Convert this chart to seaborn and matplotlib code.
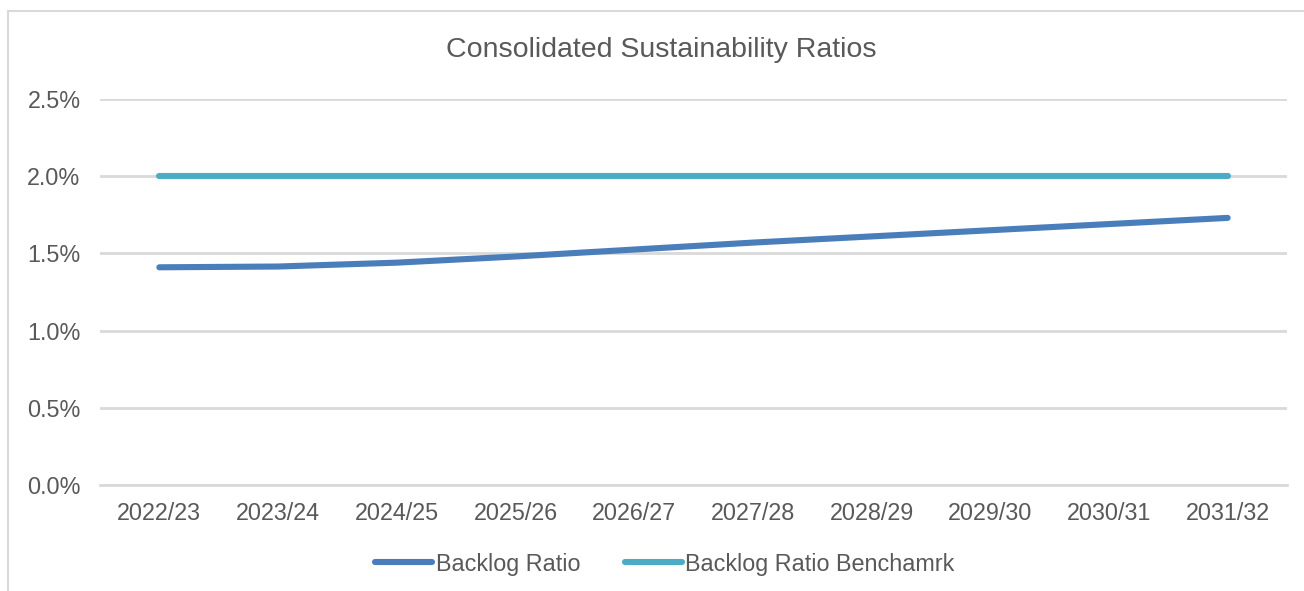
import matplotlib
matplotlib.use("Agg")
import matplotlib.pyplot as plt
import matplotlib.patches as mpatches
import seaborn as sns
import pandas as pd

# Financial years on the x axis
years = ["2022/23", "2023/24", "2024/25", "2025/26", "2026/27",
         "2027/28", "2028/29", "2029/30", "2030/31", "2031/32"]
# Ratios in percent
backlog_ratio = [1.41, 1.415, 1.44, 1.48, 1.525, 1.57, 1.61, 1.65, 1.69, 1.73]
backlog_benchmark = [2.0, 2.0, 2.0, 2.0, 2.0, 2.0, 2.0, 2.0, 2.0, 2.0]
series_names = ["Backlog Ratio", "Backlog Ratio Benchamrk"]
y_ticks = [0.0, 0.5, 1.0, 1.5, 2.0, 2.5]

df = pd.DataFrame({
    "year": years * 2,
    "ratio": backlog_ratio + backlog_benchmark,
    "series": [series_names[0]] * len(years) + [series_names[1]] * len(years),
})

sns.set_theme(style="white")
plt.rcParams["font.family"] = ["Liberation Sans", "DejaVu Sans"]

W, H = 1304, 591
fig = plt.figure(figsize=(W / 100, H / 100), dpi=100)
fig.patch.set_facecolor("white")

# outer chart frame
fig.add_artist(mpatches.Rectangle((8 / W, -0.1), 1.2, 1 - 11 / H + 0.1,
                                  transform=fig.transFigure, fill=False,
                                  edgecolor="#d9d9d9", linewidth=1.5))

ax = fig.add_axes([100 / W, (H - 485) / H, (1287 - 100) / W, (485 - 99) / H])

text_color = "#595959"
palette = {series_names[0]: "#4a7ebb", series_names[1]: "#4bacc6"}

sns.lineplot(data=df, x="year", y="ratio", hue="series", palette=palette,
             linewidth=4.4, solid_capstyle="round", legend=False, ax=ax,
             zorder=3)

ax.set_xlim(-0.5, len(years) - 0.5)
ax.set_ylim(0, 2.5)
ax.set_yticks(y_ticks)
ax.set_yticklabels([f"{v:.1f}%" for v in y_ticks])
ax.yaxis.grid(True, color="#d9d9d9", linewidth=2)
ax.xaxis.grid(False)
for side in ["top", "right", "left"]:
    ax.spines[side].set_visible(False)
ax.spines["bottom"].set_color("#d9d9d9")
ax.spines["bottom"].set_linewidth(2)
ax.set_xlabel("")
ax.set_ylabel("")
ax.tick_params(axis="y", length=0, pad=14, labelsize=16.8, labelcolor=text_color)
ax.tick_params(axis="x", length=0, pad=12, labelsize=16.8, labelcolor=text_color)

fig.text(661 / W, 1 - 50 / H, "Consolidated Sustainability Ratios",
         ha="center", va="center", fontsize=20.5, color=text_color)

handles = ax.get_lines()[:2]
fig.legend(handles, series_names, loc="center",
           bbox_to_anchor=(665 / W, 1 - 564 / H), ncol=2, frameon=False,
           fontsize=16.8, labelcolor=text_color, handlelength=2.45,
           handletextpad=0.15, columnspacing=1.9)

fig.savefig("out.png", dpi=100)
